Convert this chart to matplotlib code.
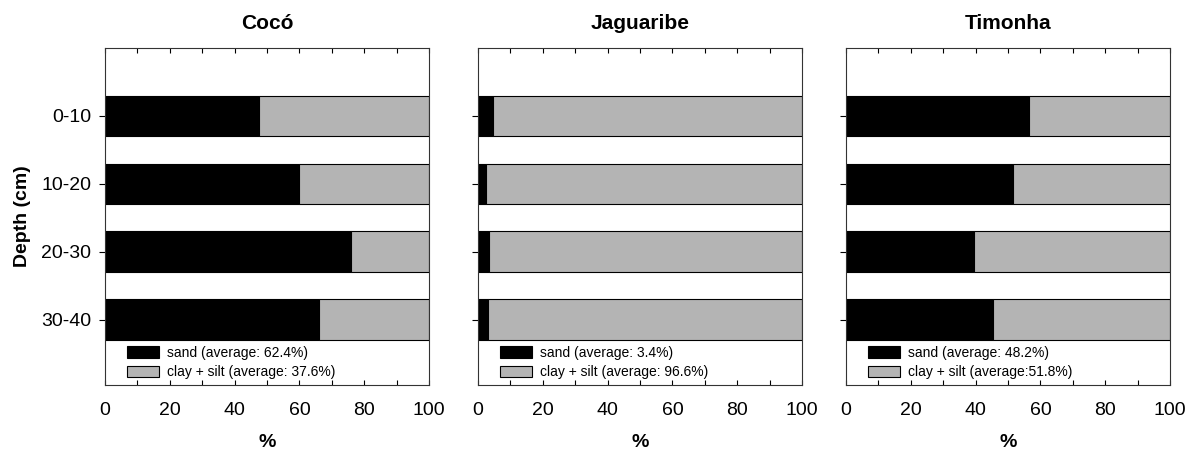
import matplotlib.pyplot as plt
import numpy as np

plt.rcParams['font.family'] = ['Liberation Sans', 'DejaVu Sans']

# data
depths = ["0-10", "10-20", "20-30", "30-40"]
sites = ["Cocó", "Jaguaribe", "Timonha"]
sand_coco = [47.5, 60.0, 76.0, 66.0]
sand_jaguaribe = [4.5, 2.5, 3.5, 3.0]
sand_timonha = [56.5, 51.5, 39.5, 45.5]
sand_labels = ["sand (average: 62.4%)", "sand (average: 3.4%)", "sand (average: 48.2%)"]
clay_labels = ["clay + silt (average: 37.6%)", "clay + silt (average: 96.6%)", "clay + silt (average:51.8%)"]

sand_all = [sand_coco, sand_jaguaribe, sand_timonha]
gray = "#b4b4b4"

fig = plt.figure(figsize=(11.87, 4.51), dpi=100)
lefts = [105/1187, 478/1187, 846/1187]
w = 324/1187
bottom = 1 - 385/451
h = 337/451

y = np.arange(len(depths))
for i in range(3):
    ax = fig.add_axes([lefts[i], bottom, w, h])
    sand = np.array(sand_all[i])
    clay = 100 - sand
    ax.barh(y, sand, height=0.6, color="black", edgecolor="black", linewidth=0.8, label=sand_labels[i])
    ax.barh(y, clay, left=sand, height=0.6, color=gray, edgecolor="black", linewidth=0.8, label=clay_labels[i])
    ax.set_xlim(0, 100)
    ax.set_ylim(3.96, -1)
    ax.set_yticks(y)
    if i == 0:
        ax.set_yticklabels(depths)
        ax.set_ylabel("Depth (cm)", fontsize=14, fontweight="bold", labelpad=7)
    else:
        ax.set_yticklabels([])
    ax.set_xticks(np.arange(0, 101, 20))
    ax.set_xticks(np.arange(10, 100, 20), minor=True)
    ax.tick_params(axis="x", which="both", direction="in", top=True, labelsize=14, length=3.5, width=0.8, pad=12)
    ax.tick_params(axis="y", direction="out", labelsize=14, length=4, width=0.8, pad=6)
    ax.set_xlabel("%", fontsize=14, fontweight="bold", labelpad=11)
    ax.set_title(sites[i], fontsize=15, fontweight="bold", pad=14)
    for s in ax.spines.values():
        s.set_linewidth(0.8)
        s.set_color("#333333")
    ax.legend(loc="lower left", bbox_to_anchor=(0.055, 0.005), frameon=False, fontsize=10,
              handlelength=2.3, handleheight=0.9, labelspacing=0.4, borderpad=0.2,
              borderaxespad=0.1, handletextpad=0.6)

fig.savefig("out.png", dpi=100)
